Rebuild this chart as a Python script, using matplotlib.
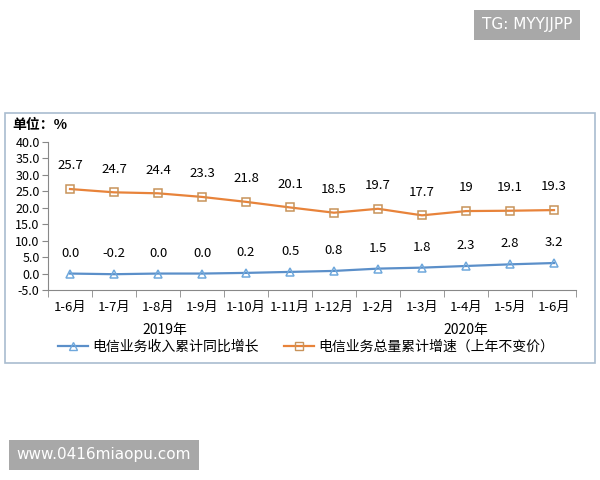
import matplotlib
matplotlib.use("Agg")
import matplotlib.pyplot as plt
from matplotlib.patches import Rectangle
from matplotlib.lines import Line2D

plt.rcParams['font.family'] = ['Noto Sans CJK SC', 'DejaVu Sans']

months = ['1-6月', '1-7月', '1-8月', '1-9月', '1-10月', '1-11月', '1-12月',
          '1-2月', '1-3月', '1-4月', '1-5月', '1-6月']
years = ['2019年', '2020年']
income = [0.0, -0.2, 0.0, 0.0, 0.2, 0.5, 0.8, 1.5, 1.8, 2.3, 2.8, 3.2]
income_labels = ['0.0', '-0.2', '0.0', '0.0', '0.2', '0.5', '0.8', '1.5', '1.8', '2.3', '2.8', '3.2']
volume = [25.7, 24.7, 24.4, 23.3, 21.8, 20.1, 18.5, 19.7, 17.7, 19.0, 19.1, 19.3]
volume_labels = ['25.7', '24.7', '24.4', '23.3', '21.8', '20.1', '18.5', '19.7', '17.7', '19', '19.1', '19.3']

BLUE = '#5b8fc9'
BLUE_MK = '#6fa8dc'
ORANGE = '#e8833a'
ORANGE_MK = '#c8935a'

fig = plt.figure(figsize=(6, 4.8), dpi=100)

# chart frame
fig.patches.append(Rectangle((5 / 600, 1 - 363 / 480), 590 / 600, 250 / 480,
                             transform=fig.transFigure, fill=False,
                             edgecolor='#a9bccf', linewidth=1.2))

ax = fig.add_axes([48 / 600, 1 - 290 / 480, 528 / 600, 148 / 480])
x = list(range(len(months)))

ax.plot(x, volume, color=ORANGE, lw=1.6, marker='s', markersize=6,
        markerfacecolor='none', markeredgecolor=ORANGE_MK, markeredgewidth=1.1)
ax.plot(x, income, color=BLUE, lw=1.6, marker='^', markersize=6,
        markerfacecolor='none', markeredgecolor=BLUE_MK, markeredgewidth=1.1)

for i in x:
    ax.annotate(volume_labels[i], (i, volume[i]), xytext=(0, 12),
                textcoords='offset points', ha='center', va='bottom', fontsize=9.5)
    ax.annotate(income_labels[i], (i, income[i]), xytext=(0, 10),
                textcoords='offset points', ha='center', va='bottom', fontsize=9.5)

ax.set_xlim(-0.5, len(months) - 0.5)
ax.set_ylim(-5, 40)
ax.set_yticks(range(-5, 41, 5))
ax.set_yticklabels([f'{v:.1f}' for v in range(-5, 41, 5)], fontsize=9)
ax.set_xticks(x)
ax.set_xticklabels(months, fontsize=9.5)
ax.set_xticks([i - 0.5 for i in range(len(months) + 1)], minor=True)
ax.tick_params(axis='x', which='major', length=0, pad=8)
ax.tick_params(axis='x', which='minor', length=5, color='#888888', direction='out')
ax.tick_params(axis='y', length=4, color='#888888', direction='out', pad=2)

for s in ['top', 'right']:
    ax.spines[s].set_visible(False)
ax.spines['left'].set_color('#888888')
ax.spines['bottom'].set_color('#888888')

fig.text(12 / 600, 1 - 125 / 480, '单位：%', fontsize=10, fontweight='bold', va='center')
fig.text(165 / 600, 1 - 330 / 480, years[0], fontsize=10, ha='center', va='center')
fig.text(466 / 600, 1 - 330 / 480, years[1], fontsize=10, ha='center', va='center')

handles = [
    Line2D([], [], color=BLUE, lw=1.6, marker='^', markersize=6,
           markerfacecolor='none', markeredgecolor=BLUE_MK),
    Line2D([], [], color=ORANGE, lw=1.6, marker='s', markersize=6,
           markerfacecolor='none', markeredgecolor=ORANGE_MK),
]
fig.legend(handles, ['电信业务收入累计同比增长', '电信业务总量累计增速（上年不变价）'],
           loc='center', bbox_to_anchor=(306 / 600, 1 - 347 / 480), ncol=2, frameon=False,
           fontsize=10, handlelength=2.2, handletextpad=0.3, columnspacing=1.8)

# watermarks
fig.text(527 / 600, 1 - 25 / 480, 'TG: MYYJJPP', fontsize=11, color='white',
         ha='center', va='center', family='DejaVu Sans',
         bbox=dict(boxstyle='square,pad=0.5', facecolor='#a8a8a8', edgecolor='none'))
fig.text(104 / 600, 1 - 455 / 480, 'www.0416miaopu.com', fontsize=11, color='white',
         ha='center', va='center', family='DejaVu Sans',
         bbox=dict(boxstyle='square,pad=0.5', facecolor='#a8a8a8', edgecolor='none'))

fig.savefig('out.png', dpi=100)
